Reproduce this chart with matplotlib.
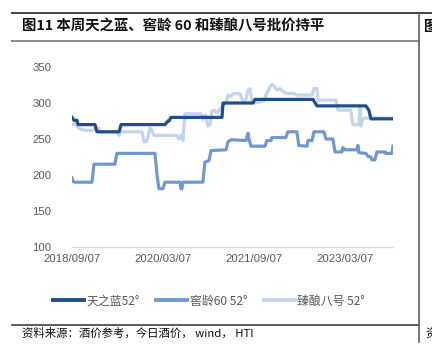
import matplotlib
matplotlib.use("Agg")
import matplotlib.pyplot as plt
from matplotlib.lines import Line2D
import pandas as pd

plt.rcParams['font.family'] = ['Noto Sans CJK SC', 'DejaVu Sans']

# ---------------- data ----------------
start_date = "2018-09-07"
end_days = 1930

tzl_days = [0, 12, 30, 36, 138, 150, 283, 295, 559, 577, 583, 595, 902, 908, 1088, 1100,
            1449, 1473, 1767, 1785, 1797, 1930]
tzl_vals = [280, 276, 276, 270, 270, 260, 260, 270, 270, 275, 275, 280, 280, 300, 300, 305,
            305, 296, 296, 290, 278, 278]

jl_days = [0, 6, 18, 120, 132, 258, 270, 499, 511, 523, 547, 559, 649, 655, 661, 667, 787, 799,
           824, 836, 926, 938, 956, 1046, 1058, 1064, 1076, 1160, 1172, 1196, 1202, 1286, 1298,
           1352, 1364, 1413, 1419, 1443, 1455, 1515, 1527, 1569, 1581, 1623, 1629, 1641, 1713,
           1719, 1725, 1767, 1779, 1797, 1803, 1821, 1833, 1881, 1887, 1924, 1930]
jl_vals = [196, 191, 190, 190, 215, 215, 230, 230, 200, 181, 181, 190, 190, 181, 181, 190, 190, 218,
           220, 234, 235, 246, 249, 248, 258, 250, 240, 240, 248, 248, 252, 252, 260,
           260, 241, 240, 248, 248, 260, 260, 250, 250, 232, 232, 238, 235, 235,
           241, 231, 230, 226, 225, 221, 221, 232, 232, 230, 230, 240]

zn_days = [0, 24, 36, 48, 78, 126, 144, 162, 174, 270, 283, 295, 421, 433, 445, 457, 469, 481, 493,
           631, 643, 655, 661, 667, 679, 775, 787, 799, 805, 817, 830, 842, 854, 872, 890, 902, 926,
           938, 956, 968, 1010, 1028, 1046, 1058, 1070, 1082, 1100, 1154, 1166, 1190, 1202, 1220,
           1232, 1250, 1268, 1292, 1340, 1352, 1443, 1455, 1473, 1479, 1587, 1599, 1677, 1689,
           1725, 1731, 1737, 1749, 1930]
zn_vals = [270, 272, 266, 264, 262, 262, 265, 265, 260, 260, 255, 260, 260, 246, 246, 253, 265, 262, 255,
           255, 250, 255, 255, 248, 285, 285, 277, 283, 283, 268, 270, 289, 290, 286, 292, 295, 300,
           311, 309, 313, 313, 302, 305, 318, 320, 302, 300, 303, 311, 322, 326, 322,
           318, 320, 316, 313, 313, 311, 311, 320, 320, 304, 304, 290, 290, 270,
           270, 293, 268, 279, 279]

series_names = ["天之蓝52°", "窖龄60 52°", "臻酿八号 52°"]
tick_dates = ["2018-09-07", "2020-03-07", "2021-09-07", "2023-03-07"]
tick_labels = ["2018/09/07", "2020/03/07", "2021/09/07", "2023/03/07"]
y_ticks = [100, 150, 200, 250, 300, 350]

title = "图11 本周天之蓝、窖龄 60 和臻酿八号批价持平"
source = "资料来源：酒价参考，今日酒价， wind， HTI"

# ---------------- drawing ----------------
W, H = 432, 356
fig = plt.figure(figsize=(W / 100, H / 100), dpi=100)
fig.patch.set_facecolor("white")

ax = fig.add_axes([72 / W, 1 - 247 / H, (393 - 72) / W, (247 - 67) / H])

t0 = pd.Timestamp(start_date)
to_dates = lambda d: t0 + pd.to_timedelta(d, unit="D")

c_dark, c_mid, c_light = "#1F4E8C", "#7097D2", "#C3D4EC"
lw = 2.3
ax.plot(to_dates(zn_days), zn_vals, color=c_light, lw=lw, zorder=2, solid_joinstyle="round")
ax.plot(to_dates(jl_days), jl_vals, color=c_mid, lw=lw, zorder=3, solid_joinstyle="round")
ax.plot(to_dates(tzl_days), tzl_vals, color=c_dark, lw=lw, zorder=4, solid_joinstyle="round")

ax.set_xlim(t0, to_dates(end_days))
ax.set_ylim(100, 350)
ax.set_yticks(y_ticks)
ax.set_xticks([pd.Timestamp(d) for d in tick_dates])
ax.set_xticklabels(tick_labels)
for s in ["top", "right", "left"]:
    ax.spines[s].set_visible(False)
ax.spines["bottom"].set_color("#D9D9D9")
ax.spines["bottom"].set_linewidth(1.0)
ax.tick_params(length=0, labelsize=8.2, colors="#595959", labelfontfamily="Liberation Sans")
ax.tick_params(axis="y", pad=15)
ax.tick_params(axis="x", pad=5)
ax.set_facecolor("none")

handles = [Line2D([], [], color=c, lw=2.8) for c in (c_dark, c_mid, c_light)]
leg = fig.legend(handles, series_names, loc="center", bbox_to_anchor=(209 / W, 1 - 301 / H),
                 ncol=3, frameon=False, fontsize=8.6, handlelength=2.6, handletextpad=0.2,
                 columnspacing=1.4)
for t in leg.get_texts():
    t.set_color("#595959")

# header / footer frame lines
fig.add_artist(Line2D([12 / W, 1], [1 - 13 / H, 1 - 13 / H], color="#404040", lw=1.4))
fig.add_artist(Line2D([12 / W, 419 / W], [1 - 41 / H, 1 - 41 / H], color="#8C8C8C", lw=1.4))
fig.add_artist(Line2D([12 / W, 419 / W], [1 - 325 / H, 1 - 325 / H], color="#404040", lw=1.2))
fig.add_artist(Line2D([419 / W, 419 / W], [1 - 13 / H, 1 - 342 / H], color="#606060", lw=1.2))

fig.text(22 / W, 1 - 27 / H, title, fontsize=10.4, fontweight="bold", va="center", ha="left",
         color="#111111")
fig.text(424 / W, 1 - 27 / H, "图", fontsize=10.4, fontweight="bold", va="center", ha="left",
         color="#111111")
fig.text(22 / W, 1 - 333 / H, source, fontsize=8.2, va="center", ha="left", color="#111111")
fig.text(425 / W, 1 - 333 / H, "资", fontsize=8.2, va="center", ha="left", color="#111111")

fig.savefig("out.png", dpi=100)
